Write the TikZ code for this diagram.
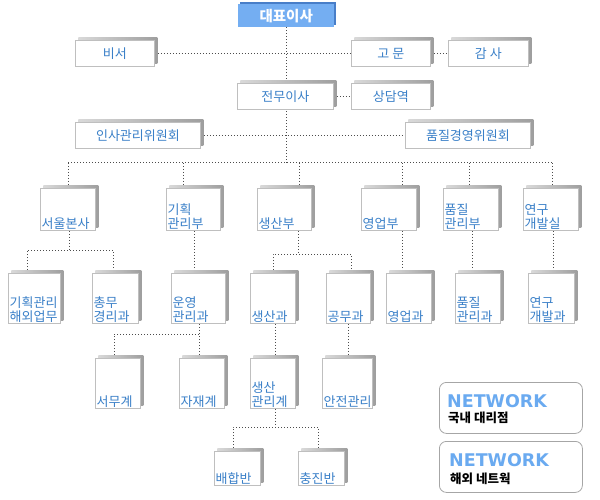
\documentclass[tikz,border=0pt]{standalone}
\usepackage{fontspec}
\setmainfont{Noto Sans CJK KR}
\newfontfamily\netfont{DejaVu Sans}
\usetikzlibrary{shadows}
\usetikzlibrary{backgrounds}
\definecolor{orgblue}{RGB}{58,128,200}
\definecolor{headfill}{RGB}{116,174,242}
\definecolor{headedge}{RGB}{72,126,200}
\definecolor{netblue}{RGB}{106,170,240}
\tikzset{
  unit/.style={
    draw=black!25, fill=white, line width=0.8pt, inner sep=0, anchor=north west,
    copy shadow={shadow xshift=3pt, shadow yshift=3pt, draw=none, left color=black!15, right color=black!38},
    font=\fontsize{13}{14}\selectfont, text=orgblue
  },
  sz/.style 2 args={minimum width=#1, minimum height=#2},
  low/.style={label={[lowtext]south west:{#1}}},
  lowtext/.style={anchor=south west, inner sep=1.5pt, align=left, text=orgblue,
    font=\fontsize{13}{14}\selectfont},
  head/.style={
    fill=headfill, draw=none, inner sep=0, anchor=north west, text=white,
    copy shadow={shadow xshift=2pt, shadow yshift=2pt, fill=headedge, draw=none},
    font=\fontsize{14.5}{16}\selectfont\bfseries
  },
  link/.style={draw=black!70, line width=1pt, dash pattern=on 1pt off 2pt},
  netbox/.style={draw=black!35, rounded corners=7pt, line width=0.8pt, anchor=north west},
  nettitle/.style={anchor=base west, inner sep=0, text=netblue, font=\netfont\bfseries\fontsize{17.5}{18}\selectfont},
  netsub/.style={anchor=base west, inner sep=0, font=\fontsize{12.5}{13}\selectfont\bfseries}
}
\begin{document}
\begin{tikzpicture}[x=1pt,y=-1pt]
\useasboundingbox (0,0) rectangle (600,500);
\node[head, sz={96}{23}] (ceo) at (238,4) {대표이사};
\node[unit, sz={79}{26}] (sec) at (75,40) {비서};
\node[unit, sz={79}{26}] (adv) at (351,40) {고 문};
\node[unit, sz={80}{26}] (aud) at (448,40) {감 사};
\node[unit, sz={96}{26}] (vp) at (237,83) {전무이사};
\node[unit, sz={79}{26}] (cons) at (351,83) {상담역};
\node[unit, sz={125}{26}] (hrc) at (75,122) {인사관리위원회};
\node[unit, sz={125}{26}] (qmc) at (405,122) {품질경영위원회};

\node[unit, sz={55}{42}, low=서울본사] (seoul) at (40,188) {};
\node[unit, sz={54}{42}, low=기획\\관리부] (plan) at (166,188) {};
\node[unit, sz={54}{42}, low=생산부] (prod) at (257,188) {};
\node[unit, sz={55}{42}, low=영업부] (sales) at (361,188) {};
\node[unit, sz={55}{42}, low=품질\\관리부] (qual) at (443,188) {};
\node[unit, sz={55}{42}, low=연구\\개발실] (rnd) at (523,188) {};

\node[unit, sz={52}{50}, low=기획관리\\해외업무] (ovs) at (8,273) {};
\node[unit, sz={46}{50}, low=총무\\경리과] (gen) at (92,273) {};
\node[unit, sz={54}{50}, low=운영\\관리과] (ops) at (171,273) {};
\node[unit, sz={45}{50}, low=생산과] (prd) at (250,273) {};
\node[unit, sz={44}{50}, low=공무과] (eng) at (326,273) {};
\node[unit, sz={45}{50}, low=영업과] (sal) at (386,273) {};
\node[unit, sz={45}{50}, low=품질\\관리과] (qc) at (455,273) {};
\node[unit, sz={46}{50}, low=연구\\개발과] (rd) at (528,273) {};

\node[unit, sz={45}{50}, low=서무계] (adm) at (95,358) {};
\node[unit, sz={45}{50}, low=자재계] (mat) at (179,358) {};
\node[unit, sz={45}{50}, low=생산\\관리계] (pm) at (250,358) {};
\node[unit, sz={50}{50}, low=안전관리] (saf) at (322,358) {};

\node[unit, sz={46}{34}, low=배합반] (mix) at (214,451) {};
\node[unit, sz={46}{34}, low=충진반] (fillg) at (298,451) {};

\node[netbox, sz={143}{51}] (net1) at (439,382) {};
\node[nettitle] (net1t) at (447,407) {NETWORK};
\node[netsub] (net1s) at (448,422) {국내 대리점};
\node[netbox, sz={143}{51}] (net2) at (439,441) {};
\node[nettitle] (net2t) at (449,466) {NETWORK};
\node[netsub] (net2s) at (450,483) {해외 네트웍};

\coordinate (d1) at (68,163);
\coordinate (d2) at (183,163);
\coordinate (d3) at (299,163);
\coordinate (d4) at (402,163);
\coordinate (d5) at (469,163);
\coordinate (d6) at (552,163);
\coordinate (s1) at (69,250);
\coordinate (s2) at (27,250);
\coordinate (s3) at (113,250);
\coordinate (p1) at (194,250);
\coordinate (q1) at (298,254);
\coordinate (q2) at (273,254);
\coordinate (q3) at (351,254);
\coordinate (r1) at (402,250);
\coordinate (r2) at (472,250);
\coordinate (r3) at (553,250);
\coordinate (o1) at (199,334);
\coordinate (o2) at (114,334);
\coordinate (m1) at (275,340);
\coordinate (m2) at (348,340);
\coordinate (k1) at (275,427);
\coordinate (k2) at (233,427);
\coordinate (k3) at (318,427);

\begin{scope}[on background layer]
\draw[link] (ceo.south) -- (ceo.south |- d1);
\draw[link] (sec) -- (adv);
\draw[link] (adv) -- (aud);
\draw[link] (vp) -- (cons);
\draw[link] (hrc) -- (qmc);
\draw[link] (d1) -- (d6);
\foreach \d/\b in {d1/seoul, d2/plan, d3/prod, d4/sales, d5/qual, d6/rnd}
  \draw[link] (\d) -- (\d |- \b.north);
\draw[link] (seoul.south -| s1) -- (s1);
\draw[link] (ovs.north -| s2) -- (s2) -- (s3) -- (gen.north -| s3);
\draw[link] (plan.south -| p1) -- (ops.north -| p1);
\draw[link] (prod.south -| q1) -- (q1);
\draw[link] (prd.north -| q2) -- (q2) -- (q3) -- (eng.north -| q3);
\draw[link] (sales.south -| r1) -- (sal.north -| r1);
\draw[link] (qual.south -| r2) -- (qc.north -| r2);
\draw[link] (rnd.south -| r3) -- (rd.north -| r3);
\draw[link] (ops.south -| o1) -- (o1);
\draw[link] (adm.north -| o2) -- (o2) -- (o1) -- (mat.north -| o1);
\draw[link] (prd.south -| m1) -- (pm.north -| m1);
\draw[link] (eng.south -| m2) -- (saf.north -| m2);
\draw[link] (pm.south -| k1) -- (k1);
\draw[link] (mix.north -| k2) -- (k2) -- (k3) -- (fillg.north -| k3);
\end{scope}
\end{tikzpicture}
\end{document}
